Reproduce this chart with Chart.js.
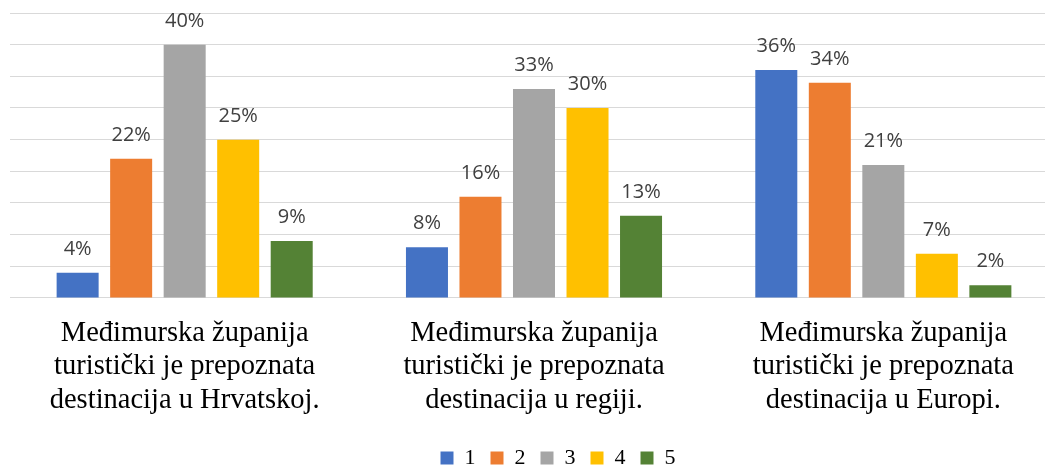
<!DOCTYPE html>
<html>
<head>
<meta charset="utf-8">
<script src="https://cdn.jsdelivr.net/npm/chart.js@4.4.1/dist/chart.umd.min.js"></script>
<style>
  html, body { margin: 0; padding: 0; background: #fff; overflow: hidden; }
  #wrap { width: 1060px; height: 467px; }
</style>
</head>
<body>
<div id="wrap"><canvas id="c" width="1060" height="467"></canvas></div>
<script>
// --- data ---
const categories = [
  ['Međimurska županija', 'turistički je prepoznata', 'destinacija u Hrvatskoj.'],
  ['Međimurska županija', 'turistički je prepoznata', 'destinacija u regiji.'],
  ['Međimurska županija', 'turistički je prepoznata', 'destinacija u Europi.']
];
const seriesNames = ['1', '2', '3', '4', '5'];
const s1 = [4, 8, 36];
const s2 = [22, 16, 34];
const s3 = [40, 33, 21];
const s4 = [25, 30, 7];
const s5 = [9, 13, 2];

const COLORS = ['#4472C4', '#ED7D31', '#A5A5A5', '#FFC000', '#548235'];

// value labels above each bar
const valueLabels = {
  id: 'valueLabels',
  afterDatasetsDraw(chart) {
    const ctx = chart.ctx;
    ctx.save();
    ctx.font = '20px "Open Sans"';
    ctx.fillStyle = '#404040';
    ctx.textAlign = 'center';
    ctx.textBaseline = 'alphabetic';
    chart.data.datasets.forEach((ds, i) => {
      chart.getDatasetMeta(i).data.forEach((bar, j) => {
        ctx.fillText(ds.data[j] + '%', bar.x, bar.y - 18);
      });
    });
    ctx.restore();
  }
};

// nudge the legend row right and down, like the original
const legendShift = {
  id: 'legendShift',
  afterLayout(chart) {
    const lg = chart.legend;
    if (lg) {
      lg.left += 24;
      lg.right += 24;
      lg.top += 4;
      lg.bottom += 4;
    }
  }
};

new Chart(document.getElementById('c'), {
  type: 'bar',
  data: {
    labels: categories,
    datasets: [s1, s2, s3, s4, s5].map((d, i) => ({
      label: seriesNames[i],
      data: d,
      backgroundColor: COLORS[i],
      borderWidth: 0,
      categoryPercentage: 0.766,
      barPercentage: 0.785
    }))
  },
  options: {
    responsive: false,
    animation: false,
    layout: { padding: { top: 13, left: 10, right: 2, bottom: -8 } },
    scales: {
      x: {
        grid: { display: false },
        border: { display: false },
        ticks: {
          color: '#000',
          font: { family: '"Liberation Serif"', size: 28.5, lineHeight: 1.17 },
          padding: 11,
          maxRotation: 0,
          autoSkip: false
        }
      },
      y: {
        min: 0,
        max: 45,
        ticks: { display: false, stepSize: 5 },
        border: { display: false },
        grid: { color: '#D9D9D9', lineWidth: 1, drawTicks: false }
      }
    },
    plugins: {
      legend: {
        position: 'bottom',
        labels: {
          color: '#000',
          font: { family: '"Liberation Serif"', size: 22 },
          boxWidth: 13,
          boxHeight: 13,
          padding: 15
        }
      },
      tooltip: { enabled: false }
    }
  },
  plugins: [valueLabels, legendShift]
});
</script>
</body>
</html>
